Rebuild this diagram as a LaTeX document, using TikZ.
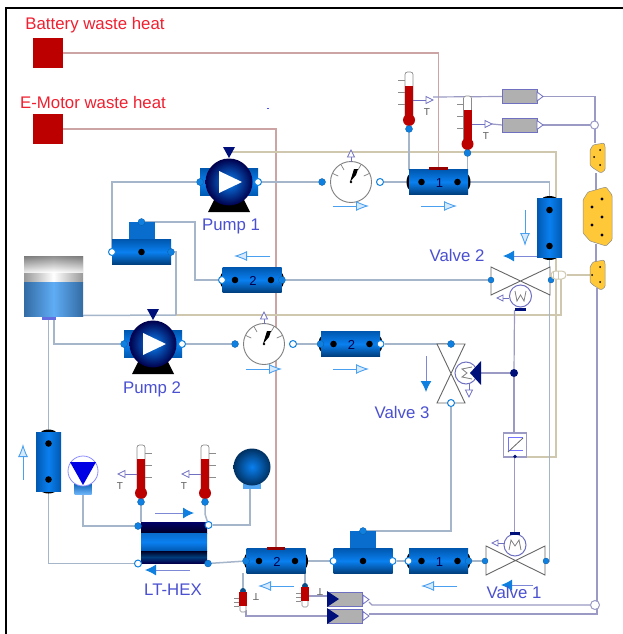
\documentclass[tikz,border=0pt]{standalone}
\usepackage{fontspec}
\setmainfont{Liberation Sans}
\usetikzlibrary{arrows.meta,calc}
\pgfdeclarelayer{bg}
\pgfsetlayers{bg,main}
\definecolor{pipeC}{HTML}{A6B6CA}
\definecolor{tanC}{HTML}{CFC8AE}
\definecolor{redC}{HTML}{CDA4A4}
\definecolor{ctrlC}{HTML}{9A9AC4}
\definecolor{portC}{HTML}{1080E0}
\definecolor{blueA}{HTML}{0058B0}
\definecolor{blueB}{HTML}{0A80F0}
\definecolor{navyC}{HTML}{00107A}
\definecolor{flowC}{HTML}{4AA0F0}
\definecolor{txtB}{HTML}{4A50D0}
\definecolor{txtR}{HTML}{F02030}
\definecolor{heatC}{HTML}{BC0000}
\definecolor{yelC}{HTML}{FFC838}
\definecolor{greyC}{HTML}{B0B0B0}
\definecolor{boxC}{HTML}{7070C0}
\tikzset{
 pipeln/.style={draw=pipeC,line width=1.5pt},
 tanln/.style={draw=tanC,line width=1.5pt},
 redln/.style={draw=redC,line width=1.2pt},
 ctrlln/.style={draw=ctrlC,line width=1.2pt},
 pf/.style={circle,fill=portC,draw=portC!70!black,line width=.3pt,inner sep=0pt,minimum size=7pt},
 po/.style={circle,fill=white,draw=portC,line width=1pt,inner sep=0pt,minimum size=7pt},
 pn/.style={inner sep=0pt,minimum size=0pt},
 hpipebox/.style={rectangle,inner sep=0pt,minimum width=59pt,minimum height=25pt,top color=blueA,bottom color=blueA!70!black,middle color=blueB},
 vpipebox/.style={rectangle,inner sep=0pt,minimum width=25pt,minimum height=59pt,left color=blueA,right color=blueA,middle color=blueB},
 heatbox/.style={rectangle,inner sep=0pt,minimum size=30pt,fill=heatC},
 lblB/.style={text=txtB,font=\fontsize{16.8}{18}\selectfont,inner sep=0pt},
 lblR/.style={text=txtR,font=\fontsize{16.8}{18}\selectfont,inner sep=0pt},
 lblT/.style={text=black!65,font=\fontsize{10}{10}\selectfont,inner sep=0pt},
 lblN/.style={text=blue!30!black,font=\fontsize{13}{13}\selectfont,inner sep=0pt},
 flowopen/.style={draw=flowC,line width=.9pt,-{Latex[length=13pt,width=10pt,fill=flowC!22,color=flowC,line width=.9pt]}},
 flowfill/.style={draw=pipeC!75!blue,line width=1pt,-{Latex[length=11pt,width=11pt,fill=portC,color=portC]}},
 sigout/.style={draw=boxC,line width=.8pt,fill=white},
 greybox/.style={rectangle,inner sep=0pt,minimum width=35pt,minimum height=14pt,fill=greyC,draw=boxC,line width=1pt},
 yel/.style={fill=yelC,draw=black!45,line width=.5pt,rounded corners=1pt},
}
% name, cx, cy, label, left port, right port
\newcommand\hpipe[6]{%
 \fill[black] (#2-28,#3) ellipse (4 and 8);
 \fill[black] (#2+28,#3) ellipse (4 and 8);
 \node[hpipebox] (#1) at (#2,#3) {};
 \fill[black] (#2-17,#3) circle (3.3);
 \fill[black] (#2+19,#3) circle (3.3);
 \node[lblN] (#1-t) at (#2+1,#3+1) {#4};
 \node[#5] (#1-l) at (#2-30,#3) {};
 \node[#6] (#1-r) at (#2+30,#3) {};
}
% name, cx, cy
\newcommand\vpipe[3]{%
 \fill[black] (#2,#3-28) ellipse (8 and 4);
 \fill[black] (#2,#3+28) ellipse (8 and 4);
 \node[vpipebox] (#1) at (#2,#3) {};
 \fill[black] (#2,#3-18) circle (3.3);
 \fill[black] (#2,#3+18) circle (3.3);
 \coordinate (#1-a) at (#2,#3-30);
 \coordinate (#1-b) at (#2,#3+30);
}
% name, cx, cy(of bar), left, right, top port
\newcommand\tee[6]{%
 \node[rectangle,inner sep=0pt,minimum width=26pt,minimum height=18pt,fill=blueB!85!black] (#1-s) at (#2,#3-21) {};
 \node[hpipebox,minimum height=25pt] (#1) at (#2,#3) {};
 \fill[black] (#2,#3) circle (3.3);
 \node[#4] (#1-l) at (#2-29.5,#3) {};
 \node[#5] (#1-r) at (#2+29.5,#3) {};
 \node[#6] (#1-t) at (#2,#3-30) {};
}
% name, cx, cy, lport, rport
\newcommand\pump[5]{%
 \fill[black] (#2-15,#3+18) -- (#2+15,#3+18) -- (#2+21,#3+30) -- (#2-21,#3+30) -- cycle;
 \node[rectangle,inner sep=0pt,minimum width=58pt,minimum height=27pt,top color=blueA,bottom color=blueA,middle color=blueB] (#1-b) at (#2,#3) {};
 \node[circle,inner sep=0pt,minimum size=47pt,inner color=blueB,outer color=black!70!blue] (#1) at (#2,#3) {};
 \fill[white] (#2-10,#3-11) -- (#2+13,#3) -- (#2-10,#3+11) -- cycle;
 \fill[navyC] (#2-6,#3-35) -- (#2+6,#3-35) -- (#2,#3-24) -- cycle;
 \coordinate (#1-h) at (#2,#3-30);
 \node[#4] (#1-l) at (#2-29,#3) {};
 \node[#5] (#1-r) at (#2+29,#3) {};
}
% name, cx, cy
\newcommand\dial[3]{%
 \node[circle,inner sep=0pt,minimum size=41pt,fill=white,draw=black!50,line width=.9pt] (#1) at (#2,#3) {};
 \foreach \a in {25,60,120,155}{\draw[black!50,line width=.7pt] (#2,#3) ++(\a:-20) -- ++(\a:6);}
 \fill[black] (#2-1,#3) -- (#2+3,#3-13) -- (#2+7,#3-13) -- (#2+5,#3-7) -- cycle;
 \fill[black] (#2,#3) circle (1.3);
 \draw[sigout] (#2,#3-20) -- (#2,#3-25);
 \draw[sigout] (#2-3.5,#3-25) -- (#2+3.5,#3-25) -- (#2,#3-32) -- cycle;
 \node[pf] (#1-l) at (#2-29,#3) {};
 \node[po] (#1-r) at (#2+29,#3) {};
}
% name, x, ytop, side(+1 ticks right, -1 ticks left)
\newcommand\thermo[4]{%
 \draw[black!45,line width=.7pt,fill=white,rounded corners=2.5pt] (#2-4,#3+46) -- (#2-4,#3) -- (#2+4,#3) -- (#2+4,#3+46);
 \fill[heatC] (#2-4,#3+14) rectangle (#2+4,#3+46);
 \fill[heatC] (#2,#3+48) circle (6);
 \foreach \k in {8,20,32}{\draw[black!45,line width=.7pt] (#2+#4*4,#3+\k) -- (#2+#4*11,#3+\k);}
 \node[pf] (#1-p) at (#2,#3+57) {};
}
% name, x, ytop
\newcommand\sthermo[3]{%
 \fill[portC!60!black] (#2,#3-1) circle (3);
 \draw[black!45,line width=.6pt,fill=white,rounded corners=1.5pt] (#2-3,#3+10) -- (#2-3,#3+20) -- (#2+3,#3+20) -- (#2+3,#3+10);
 \fill[heatC] (#2-4,#3) rectangle (#2+4,#3+14);
 \foreach \k in {6,10,14}{\draw[black!45,line width=.6pt] (#2-4,#3+\k) -- (#2-9,#3+\k);}
 \coordinate (#1-p) at (#2,#3-1);
}
% name, x1, y1, x2, y2, style
\newcommand\flow[6]{%
 \coordinate (#1-a) at (#2,#3); \coordinate (#1-b) at (#4,#5);
 \draw[#6] (#1-a) -- (#1-b);
}
\begin{document}
\begin{tikzpicture}[x=1pt,y=-1pt]
\useasboundingbox (0,0) rectangle (623,634);
\begin{pgfonlayer}{bg}
\fill[white] (0,0) rectangle (623,634);
\end{pgfonlayer}
% frame
\coordinate (fa) at (6,634); \coordinate (fb) at (6,8); \coordinate (fc) at (623,8);
\draw[black,line width=2.2pt] (fa) -- (fb) -- (fc);
% texts
\node[lblR] (tBat) at (95,25.5) {Battery waste heat};
\node[lblR] (tMot) at (93,102.5) {E-Motor waste heat};
\node[heatbox] (bat) at (48,53) {};
\node[heatbox] (mot) at (48,129) {};
\fill[blue!70] (266.5,107.5) rectangle (268.5,108.5);

% pumps, dials
\pump{pump1}{229}{182}{pf}{po}
\dial{dial1}{351}{182}
\hpipe{pipe1}{438.5}{182}{1}{pn}{pn}
\fill[heatC!80!black] (429,167) rectangle (448,169.5);
\coordinate (bath) at (438.5,168);
\vpipe{vp}{549.5}{228}
\hpipe{pipe2}{252}{280}{2}{po}{pf}
\tee{tee1}{141.5}{252}{po}{pf}{pf}
\pump{pump2}{153}{344}{pf}{po}
\dial{dial2}{264}{344}
\hpipe{pipe3}{350.5}{344}{2}{pf}{po}
\hpipe{pipe4}{276}{561}{2}{pf}{pn}
\fill[heatC!80!black] (267,547) rectangle (285,549.5);
\coordinate (moth) at (276,548);
\tee{tee2}{363}{561}{po}{po}{pf}
\hpipe{pipe5}{438.5}{561}{1}{po}{pf}
\vpipe{vpl}{48.5}{461.5}

% tank
\fill[pipeC!60!blue] (42,315) rectangle (56,320);
\node[rectangle,inner sep=0pt,minimum width=59pt,minimum height=26pt,left color=black!40,right color=black!40,middle color=white] (tankT) at (53.5,269) {};
\shade[top color=black!55,bottom color=white,opacity=.8] (24,256) rectangle (83,272);
\node[rectangle,inner sep=0pt,minimum width=59pt,minimum height=34pt,left color=blueA!80!black!80,right color=blueA!80!black!80,middle color=blueB!65!white] (tank) at (53.5,299) {};
\coordinate (tank-r) at (83,315.5);
\coordinate (tank-a) at (48.5,318);
\coordinate (tank-b) at (54,318);

% valves
\coordinate (v2c) at (520.5,280);
\draw[black!60,line width=.9pt,fill=white] (491,267) -- (550,295) -- (550,267) -- (491,295) -- cycle;
\node[pf,minimum size=6pt] (v2-l) at (491,280) {};
\node[pf,minimum size=6pt] (v2-r) at (551,280) {};
\coordinate (v3c) at (451,373.5);
\draw[black!60,line width=.9pt,fill=white] (437,344) -- (465,403) -- (437,403) -- (465,344) -- cycle;
\node[pf] (v3-t) at (451,344) {};
\node[po] (v3-b) at (451,403) {};
\draw[black!60,line width=.9pt,fill=white] (486,546) -- (545,575) -- (545,546) -- (486,575) -- cycle;
\node[pf,minimum size=6pt] (v1-l) at (485,561) {};
\node[pf,minimum size=6pt] (v1-r) at (546,561) {};
% actuators
\node[circle,inner sep=0pt,minimum size=22pt,fill=white,draw=boxC,line width=1pt] (a2) at (520.5,296) {};
\draw[black!50,line width=.8pt] (515,291) -- (517,301) -- (520.5,295) -- (524,301) -- (526,291);
\fill[navyC] (515,308) rectangle (526,310.5);
\coordinate (a2b) at (514.5,310);
\draw[sigout] (509,298) -- (503,298);
\draw[sigout] (503,295) -- (503,301) -- (497,298) -- cycle;
\node[circle,inner sep=0pt,minimum size=22pt,fill=white,draw=boxC,line width=1pt] (a3) at (466,373) {};
\draw[black!50,line width=.8pt] (472,367) -- (462,369) -- (467,373) -- (462,377) -- (472,379);
\draw[sigout] (469,384) -- (469,390);
\draw[sigout] (465.5,390) -- (472.5,390) -- (469,397) -- cycle;
\fill[navyC] (481,361) -- (481,385) -- (470,373) -- cycle;
\coordinate (a3t) at (481,373);
\node[circle,inner sep=0pt,minimum size=22pt,fill=white,draw=boxC,line width=1pt] (a1) at (515,545) {};
\draw[black!50,line width=.8pt] (509,550) -- (511,540) -- (515,546) -- (519,540) -- (521,550);
\fill[navyC] (510,532) rectangle (520,534.5);
\coordinate (a1t) at (514.5,533);
\draw[sigout] (504,543) -- (498,543);
\draw[sigout] (498,540) -- (498,546) -- (492,543) -- cycle;
\node[circle,inner sep=0pt,minimum size=8pt,fill=navyC] (ndot) at (514,373) {};
% saturation
\node[rectangle,inner sep=0pt,minimum width=23pt,minimum height=24pt,fill=white,draw=ctrlC,line width=1.1pt] (sat) at (515,445) {};
\draw[blue!55,line width=.7pt] (508,437) -- (523,437) (508,437) -- (508,450) -- (523,450);
\draw[black!60,line width=.8pt] (508,452) -- (523,438);
\fill[navyC] (515,456.5) circle (1.8);
\coordinate (sat-t) at (514,433);
\coordinate (sat-b) at (514.5,457);
\coordinate (sat-r) at (527,457);

% HEX
\node[rectangle,inner sep=0pt,minimum width=66pt,minimum height=41pt,fill=blueB] (hex) at (174,542.5) {};
\shade[top color=blue!40!black,bottom color=black!85!blue] (141,522) rectangle (207,533);
\shade[top color=blueB!85!black,bottom color=blueA,middle color=blueB] (141,533) rectangle (207,551);
\shade[top color=black!85!blue,bottom color=blue!30!black,middle color=blueA!70!black] (141,551) rectangle (207,563);
\node[pf] (hex-a) at (138,526) {};
\node[po] (hex-b) at (208.5,525) {};
\node[po] (hex-c) at (138,563.5) {};
\node[pf] (hex-d) at (208,563.5) {};

% expansion vessels
\node[rectangle,inner sep=0pt,minimum width=17pt,minimum height=12pt,top color=blueA,bottom color=blueB!60!white] (exp-b) at (83,488) {};
\node[circle,inner sep=0pt,minimum size=30pt,fill=white,draw=blue!45,line width=.8pt] (exp) at (83,471) {};
\fill[blue!90!black] (70,462) -- (96,462) -- (83,485) -- cycle;
\coordinate (exp-p) at (83,494);
\node[rectangle,inner sep=0pt,minimum width=18pt,minimum height=7pt,fill=blueB!70!white] (ball-b) at (252,485) {};
\node[circle,inner sep=0pt,minimum size=37pt,inner color=blueB,outer color=blueA!55!black] (ball) at (252,467) {};
\coordinate (ball-p) at (250,488);

% thermometers
\thermo{th1}{409}{72}{-1}
\thermo{th2}{467.5}{96}{-1}
\thermo{th3}{141}{445}{1}
\thermo{th4}{205}{445}{1}
\sthermo{th5}{243}{592}
\sthermo{th6}{305}{587}
\coordinate (th5b) at (243,573);
\coordinate (th6b) at (305,573);
\coordinate (th5-o) at (246,610);
\coordinate (th6-o) at (309,596);

% signal outputs
\draw[sigout] (413,100) -- (426,100);
\draw[sigout] (426,96.5) -- (426,103.5) -- (433,100) -- cycle;
\node[lblT] (tt1) at (427,112) {T};
\draw[sigout] (472,124) -- (485,124);
\draw[sigout] (485,120.5) -- (485,127.5) -- (492,124) -- cycle;
\node[lblT] (tt2) at (486,136) {T};
\draw[sigout] (137,474) -- (125,474);
\draw[sigout] (125,470.5) -- (125,477.5) -- (118,474) -- cycle;
\node[lblT] (tt3) at (120,486) {T};
\draw[sigout] (201,474) -- (189,474);
\draw[sigout] (189,470.5) -- (189,477.5) -- (182,474) -- cycle;
\node[lblT] (tt4) at (184,486) {T};
\node[lblT,rotate=180] (tt5) at (256,597) {T};
\node[lblT,rotate=180] (tt6) at (320,592) {T};

% grey signal boxes
\node[greybox] (g1) at (519.5,96.5) {};
\draw[sigout] (537,92) -- (537,101) -- (543,96.5) -- cycle;
\coordinate (g1-i) at (502,96.5); \coordinate (g1-o) at (543,96.5);
\node[greybox] (g2) at (519.5,125) {};
\draw[sigout] (537,120.5) -- (537,129.5) -- (543,125) -- cycle;
\coordinate (g2-i) at (502,125); \coordinate (g2-o) at (543,125);
\coordinate (s1) at (433,97);
\coordinate (s2) at (492,124);
\node[greybox] (g3) at (345,599) {};
\fill[navyC] (327,591) -- (339,599) -- (327,607) -- cycle;
\draw[sigout] (363,595) -- (363,604) -- (369,599.5) -- cycle;
\coordinate (g3-i) at (327,596); \coordinate (g3-o) at (369,602); \coordinate (g3-k) at (372,605);
\node[greybox] (g4) at (345,616) {};
\fill[navyC] (327,608) -- (339,616) -- (327,624) -- cycle;
\draw[sigout] (363,611.5) -- (363,620.5) -- (369,616) -- cycle;
\coordinate (g4-i) at (327,616); \coordinate (g4-o) at (369,614);
\node[circle,inner sep=0pt,minimum size=8pt,fill=white,draw=ctrlC,line width=1pt] (j1) at (594.5,125) {};
\node[circle,inner sep=0pt,minimum size=9pt,fill=white,draw=ctrlC,line width=1pt] (j2) at (595,605) {};

% yellow connectors
\draw[yel] (590,150) -- (593,145) -- (604,143) -- (605,146) -- (605,170) -- (601,173) -- (593,168) -- (590,165) -- cycle;
\draw[yel] (583,200) -- (588,192) -- (606,187) -- (612,195) -- (612,240) -- (606,246) -- (590,241) -- (583,233) -- cycle;
\draw[yel] (590,267) -- (593,262) -- (604,260) -- (605,263) -- (605,287) -- (601,290) -- (593,285) -- (590,282) -- cycle;
\foreach \p in {(594,157),(600,150),(600,165),(592,275),(600,267),(600,282)} \fill[black] \p circle (1);
\foreach \p in {(592,207),(602,199),(602,217),(592,225),(602,235)} \fill[black] \p circle (1.6);
\coordinate (y1-o) at (595,143); \coordinate (y1-b) at (596,173);
\coordinate (y2-t) at (596,190); \coordinate (y2-b) at (596,244);
\coordinate (y3-t) at (596,262); \coordinate (y3-b) at (597,288); \coordinate (y3-l) at (590,275);
\node[rectangle,rounded corners=4pt,inner sep=0pt,minimum width=15pt,minimum height=8pt,fill=white,draw=tanC,line width=1pt] (cap) at (558.5,275) {};
\draw[tanC,line width=.8pt] (553,271) -- (553,279) (558.5,271) -- (558.5,279);

\begin{pgfonlayer}{bg}
 % red
 \draw[redln] (bat) -| (bath);
 \draw[redln] (mot) -| (moth);
 % tan
 \coordinate (c1) at (556,152); \coordinate (c2) at (561,315); \coordinate (c3) at (176,315);
 \coordinate (c4) at (556,457); \coordinate (c5) at (561,279);
 \draw[tanln] (pump1-h) -- (c1) -- (c4) -- (sat-r);
 \draw[tanln] (c3) -- (c2) -- (c5);
 \draw[tanln] (y3-l) -- (cap);
 % pipes
 \draw[pipeln] (pump1-r) -- (dial1-l);
 \draw[pipeln] (dial1-r) -- (pipe1);
 \draw[pipeln] (pipe1) -| (vp-a);
 \draw[pipeln] (vp-b) |- (v1-r);
 \draw[pipeln] (pump1-l) -| (tee1-l);
 \coordinate (c6) at (195,280);
 \draw[pipeln] (pipe2-l) -- (c6) |- (tee1-t);
 \draw[pipeln] (tee1-r) -| (c3);
 \draw[pipeln] (tank-r) -- (c3);
 \draw[pipeln] (pipe2-r) -- (v2-l);
 \draw[pipeln] (tank-b) |- (pump2-l);
 \draw[pipeln] (tank-a) -- (vpl-a);
 \draw[pipeln] (pump2-r) -- (dial2-l);
 \draw[pipeln] (dial2-r) -- (pipe3-l);
 \draw[pipeln] (pipe3-r) -- (v3-t);
 \draw[pipeln] (v3-b) |- (tee2-t);
 \draw[pipeln] (tee2-r) -- (pipe5-l);
 \draw[pipeln] (pipe5-r) -- (v1-l);
 \draw[pipeln] (tee2-l) -- (pipe4);
 \draw[pipeln] (hex-d) -- (pipe4-l);
 \draw[pipeln] (hex-c) -| (vpl-b);
 \draw[pipeln] (exp-p) |- (hex-a);
 \draw[pipeln] (ball-p) |- (hex-b);
 \coordinate (hex-t3) at (141,522); \coordinate (c7) at (205,514);
 \draw[pipeln] (th3-p) -- (hex-t3);
 \draw[pipeln] (th4-p) -- (c7) -- (hex-b);
 \coordinate (p1a) at (409,170); \coordinate (p1b) at (467.5,170);
 \draw[pipeln] (th1-p) -- (p1a);
 \draw[pipeln] (th2-p) -- (p1b);
 \draw[pipeln,line width=1.2pt] (th5b) -- (th5-p);
 \draw[pipeln,line width=1.2pt] (th6b) -- (th6-p);
 % control
 \draw[ctrlln] (a2b) -- (ndot);
 \draw[ctrlln] (ndot) -- (a3t);
 \draw[ctrlln] (ndot) -- (sat-t);
 \draw[ctrlln] (sat-b) -- (a1t);
 \draw[ctrlln] (s1) -- (g1-i);
 \draw[ctrlln] (s2) -- (g2-i);
 \draw[ctrlln] (g1-o) -| (y1-o);
 \draw[ctrlln] (g2-o) -- (j1);
 \draw[ctrlln] (y1-b) -- (y2-t);
 \draw[ctrlln] (y2-b) -- (y3-t);
 \draw[ctrlln] (y3-b) |- (g4-o);
 \draw[ctrlln] (g3-o) -- (g3-k) -- (j2);
 \draw[ctrlln] (th5-o) |- (g4-i);
 \draw[ctrlln] (th6-o) -- (g3-i);
\end{pgfonlayer}

% flow arrows
\flow{f1}{270}{256}{234}{256}{flowopen}
\flow{f2}{333}{206}{369}{206}{flowopen}
\flow{f3}{421}{206}{457}{206}{flowopen}
\flow{f4}{525}{210}{525}{246}{flowopen}
\flow{f5}{246}{369}{282}{369}{flowopen}
\flow{f6}{333}{369}{369}{369}{flowopen}
\flow{f7}{23}{480}{23}{444}{flowopen}
\flow{f8}{457}{586}{421}{586}{flowopen}
\flow{f9}{294}{586}{258}{586}{flowopen}
\flow{f10}{537}{256}{503}{256}{flowfill}
\flow{f11}{426}{356}{426}{392}{flowfill}
\flow{f12}{155}{513}{194}{513}{flowfill}
\flow{f13}{190}{570}{145}{570}{flowfill}
\flow{f14}{533}{585}{501}{585}{flowfill}

% labels
\node[lblB] (lp1) at (231,226) {Pump 1};
\node[lblB] (lp2) at (152,389) {Pump 2};
\node[lblB] (lv2) at (457,255) {Valve 2};
\node[lblB] (lv3) at (402,412) {Valve 3};
\node[lblB] (lv1) at (514,592) {Valve 1};
\node[lblB] (lhx) at (173,590) {LT-HEX};
\end{tikzpicture}
\end{document}
